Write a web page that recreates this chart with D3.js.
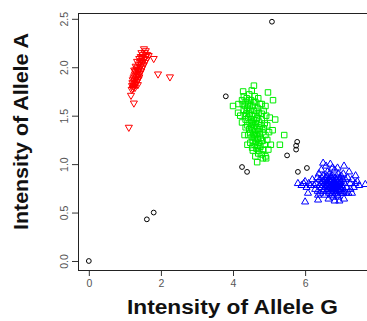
<!DOCTYPE html>
<html><head><meta charset="utf-8">
<script src="https://cdn.jsdelivr.net/npm/d3@7"></script>
<style>body{margin:0;background:#fff;}svg{display:block;font-family:"Liberation Sans",Arial,sans-serif;}</style>
</head><body>
<svg id="c" width="367" height="321"></svg>
<script>
const xTicks = [0, 2, 4, 6];
const yTicks = [0.0, 0.5, 1.0, 1.5, 2.0, 2.5];
const xLabel = "Intensity of Allele G";
const yLabel = "Intensity of Allele A";

// [G, A] pairs
const blackPts = [[0,0],[5.08,2.47],[1.61,0.43],[1.8,0.5],[3.8,1.70],[4.25,0.97],[4.39,0.92],[5.5,1.09],[5.78,1.23],[5.75,1.19],[5.75,1.15],[5.8,0.92],[6.05,0.96]];

const redPts = [[1.53,2.19],[1.8,2.09],[1.92,1.93],[2.25,1.90],[1.19,1.77],[1.17,1.71],[1.25,1.63],[1.11,1.38],
[1.58,2.17],[1.55,2.15],[1.62,2.13],[1.50,2.13],[1.57,2.11],[1.48,2.10],[1.53,2.09],[1.60,2.08],[1.45,2.07],[1.50,2.06],[1.42,2.05],[1.55,2.05],[1.47,2.03],[1.38,2.03],[1.52,2.02],[1.43,2.01],[1.35,2.00],[1.48,1.99],[1.40,1.98],[1.32,1.98],[1.45,1.96],[1.37,1.96],[1.30,1.95],[1.42,1.94],[1.34,1.93],[1.28,1.93],[1.38,1.92],[1.26,1.91],[1.32,1.90],[1.40,1.90],[1.24,1.89],[1.30,1.88],[1.35,1.87],[1.22,1.87],[1.27,1.86],[1.33,1.85],[1.21,1.84],[1.26,1.83],[1.30,1.82],[1.20,1.81],[1.24,1.80],[1.28,1.79],[1.22,1.78],[1.66,2.12],[1.44,2.11],[1.36,1.97],[1.29,1.96],
[1.34,2.06],[1.30,2.01],[1.26,1.97],[1.40,2.09],[1.46,2.15],[1.38,1.88],[1.36,1.82]];

const greenPts = [[4.58,1.81],[4.28,1.75],[4.97,1.74],[4.0,1.60],[4.14,1.53],[5.17,1.46],[5.11,1.66],[5.42,1.30],[5.3,1.20],[4.67,1.02],[4.83,1.06],[4.92,1.06],[4.53,1.17],[4.25,1.43],[4.33,1.50],
[4.30,1.70],[4.38,1.68],[4.45,1.72],[4.25,1.66],[4.35,1.64],[4.50,1.66],[4.42,1.62],[4.33,1.60],[4.55,1.60],[4.62,1.64],[4.40,1.58],[4.48,1.56],[4.30,1.56],[4.58,1.55],[4.68,1.58],[4.45,1.52],[4.37,1.52],[4.53,1.50],[4.62,1.51],[4.72,1.53],[4.42,1.48],[4.50,1.46],[4.58,1.46],[4.66,1.47],[4.35,1.46],[4.46,1.43],[4.55,1.42],[4.63,1.42],[4.72,1.44],[4.80,1.46],[4.40,1.40],[4.50,1.39],[4.58,1.38],[4.67,1.38],[4.76,1.40],[4.45,1.36],[4.54,1.35],[4.62,1.34],[4.70,1.34],[4.85,1.37],[4.48,1.32],[4.57,1.31],[4.65,1.30],[4.74,1.31],[4.52,1.28],[4.60,1.27],[4.68,1.26],[4.77,1.27],[4.90,1.30],[4.55,1.24],[4.63,1.23],[4.72,1.22],[4.82,1.24],[4.60,1.20],[4.68,1.19],[4.76,1.18],[4.88,1.20],[4.65,1.16],[4.73,1.14],[4.84,1.15],[4.70,1.11],[4.80,1.10],[4.95,1.25],[4.38,1.55],[4.27,1.62],[4.60,1.70],[4.70,1.68],[4.52,1.76],[4.80,1.62],[4.85,1.55],[4.92,1.50],[4.95,1.40],[5.00,1.33],[4.20,1.50],[4.35,1.38],[4.42,1.30],[4.48,1.22],[4.55,1.14],[5.05,1.20],[4.98,1.15],[4.90,1.08],[4.62,1.08],[4.75,1.62],[4.65,1.55],[4.80,1.52],[4.57,1.64],[4.44,1.66],[4.88,1.42],[4.47,1.60],[4.74,1.36],[4.82,1.33],[4.68,1.48],[4.52,1.43],[4.60,1.30],[4.70,1.26],
[4.15,1.62],[4.90,1.60],[5.02,1.48],[4.32,1.30],[4.40,1.20],[5.10,1.35]];

const bluePts = [[6.5,1.01],[7.08,0.98],[5.8,0.80],[6.0,0.82],[7.67,0.79],[7.39,0.80],[6.0,0.61],[6.36,0.63],[6.08,0.70],[7.06,0.70],[6.36,0.68],[6.9,0.96],[7.3,0.70],[7.08,0.64],
[6.30,0.80],[6.40,0.84],[6.45,0.76],[6.50,0.88],[6.55,0.80],[6.60,0.72],[6.62,0.92],[6.65,0.84],[6.70,0.78],[6.72,0.68],[6.75,0.88],[6.78,0.74],[6.80,0.82],[6.82,0.94],[6.85,0.70],[6.88,0.78],[6.90,0.86],[6.92,0.66],[6.95,0.80],[6.98,0.74],[7.00,0.88],[7.02,0.78],[7.05,0.84],[7.08,0.72],[7.10,0.80],[7.15,0.76],[7.18,0.86],[7.20,0.70],[7.25,0.80],[6.35,0.72],[6.42,0.70],[6.48,0.82],[6.52,0.74],[6.58,0.86],[6.62,0.78],[6.66,0.70],[6.68,0.90],[6.72,0.82],[6.74,0.74],[6.76,0.96],[6.80,0.76],[6.83,0.86],[6.86,0.80],[6.88,0.72],[6.92,0.90],[6.94,0.76],[6.96,0.84],[7.00,0.70],[7.04,0.76],[7.06,0.90],[7.12,0.84],[6.25,0.78],[6.20,0.84],[6.15,0.78],[6.10,0.80],[6.38,0.90],[6.45,0.94],[6.55,0.68],[6.65,0.64],[6.78,0.66],[6.90,0.68],[7.30,0.84],[7.22,0.92],[7.35,0.76],[7.45,0.82],[7.50,0.78],[6.58,0.98],[6.70,1.00],[6.82,0.62],[6.95,0.62],[6.62,0.82],[6.70,0.86],[6.78,0.80],[6.85,0.84],[6.72,0.76],[6.64,0.74],[6.86,0.76],[6.92,0.82],[7.00,0.82],[6.58,0.78],[6.50,0.72],[6.44,0.80],[6.34,0.86],[6.28,0.74],[7.14,0.70],[7.26,0.74],[7.40,0.88],[6.04,0.76],[5.96,0.80],[5.90,0.78],
[6.66,0.80],[6.68,0.76],[6.70,0.82],[6.74,0.78],[6.76,0.84],[6.78,0.77],[6.80,0.79],[6.82,0.75],[6.84,0.81],[6.86,0.73],[6.88,0.83],[6.90,0.77],[6.64,0.78],[6.62,0.74],[6.60,0.80],[6.56,0.76],[6.54,0.84],[6.94,0.79],[6.96,0.72],[6.98,0.81],[7.02,0.74],[6.72,0.72],[6.76,0.70],[6.84,0.78],[6.74,0.86],[6.68,0.84],[6.92,0.74],[6.80,0.72],[6.88,0.76],[6.60,0.88],[6.96,0.86],[6.50,0.78],[6.46,0.86],[6.40,0.78]];

(function () {
const svg = d3.select("#c");
const mL = 78, mT = 13, mB = 270, mR = 370;
const x = d3.scaleLinear().domain([-0.3, 7.8]).range([mL, mR]);
const y = d3.scaleLinear().domain([-0.093, 2.56]).range([mB, mT]);

const xa = svg.append("g").attr("transform", `translate(0,${mB})`)
  .call(d3.axisBottom(x).tickValues(xTicks).tickSize(6).tickPadding(4).tickFormat(d3.format("d")));
const ya = svg.append("g").attr("transform", `translate(${mL},0)`)
  .call(d3.axisLeft(y).tickValues(yTicks).tickSize(6).tickPadding(4).tickFormat(d3.format(".1f")));
[xa, ya].forEach(g => {
  g.select(".domain").remove();
  g.selectAll(".tick line").attr("stroke", "#333").attr("stroke-width", 1);
  g.selectAll(".tick text").attr("fill", "#555").style("font-size", "10.5px").style("font-family", "Liberation Sans, Arial, sans-serif");
});
ya.selectAll(".tick text").attr("text-anchor", "middle").attr("x", null).attr("dy", null)
  .attr("transform", "translate(-10,0) rotate(-90)");
xa.selectAll(".tick text").attr("dy", "0.71em");

svg.append("rect").attr("x", mL + 0.5).attr("y", mT + 0.5).attr("width", mR - mL).attr("height", mB - mT)
  .attr("fill", "none").attr("stroke", "#222").attr("stroke-width", 1);

const sym = (type, size) => d3.symbol().type(type).size(size);
function pts(data, pathFn, color, rot) {
  svg.append("g").selectAll("path").data(data).join("path")
    .attr("d", pathFn)
    .attr("transform", d => `translate(${x(d[0])},${y(d[1])})${rot ? " rotate(180)" : ""}`)
    .attr("fill", "none").attr("stroke", color).attr("stroke-width", 1);
}
pts(redPts, sym(d3.symbolTriangle, 22), "#ff0000", true);
pts(greenPts, sym(d3.symbolSquare, 30), "#00ee00", false);
pts(bluePts, sym(d3.symbolTriangle, 22), "#0000ff", false);
pts(blackPts, sym(d3.symbolCircle, 18), "#000000", false);

svg.append("text").attr("x", 232.5).attr("y", 314).attr("text-anchor", "middle")
  .attr("textLength", 211).attr("lengthAdjust", "spacingAndGlyphs")
  .style("font-weight", "bold").style("font-size", "20px").attr("fill", "#111").text(xLabel);
svg.append("text").attr("transform", "translate(28,131.5) rotate(-90)").attr("text-anchor", "middle")
  .attr("textLength", 197).attr("lengthAdjust", "spacingAndGlyphs")
  .style("font-weight", "bold").style("font-size", "20px").attr("fill", "#111").text(yLabel);
})();
</script>
</body></html>
